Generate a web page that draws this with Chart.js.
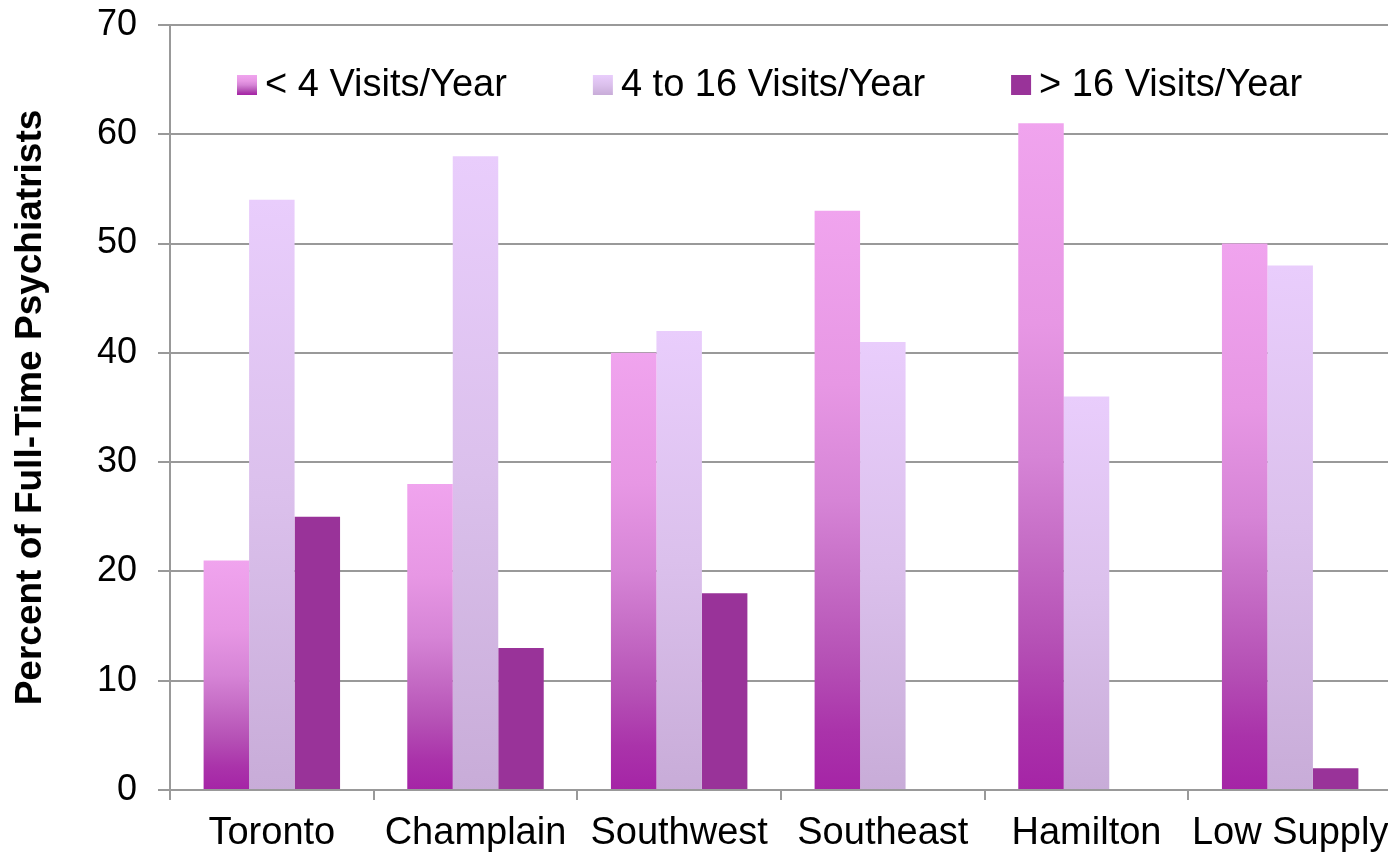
<!DOCTYPE html>
<html>
<head>
<meta charset="utf-8">
<script src="https://cdn.jsdelivr.net/npm/chart.js@4/dist/chart.umd.min.js"></script>
<style>
  html, body { margin: 0; padding: 0; background: #fff; overflow: hidden; }
  #wrap { width: 1392px; height: 852px; }
</style>
</head>
<body>
<div id="wrap"><canvas id="chart" width="1392" height="852"></canvas></div>
<script>
// data
const regions = ['Toronto', 'Champlain', 'Southwest', 'Southeast', 'Hamilton', 'Low Supply'];
const seriesNames = ['< 4 Visits/Year', '4 to 16 Visits/Year', '> 16 Visits/Year'];
const lowVisits = [21, 28, 40, 53, 61, 50];
const midVisits = [54, 58, 42, 41, 36, 48];
const highVisits = [25, 13, 18, 0, 0, 2];
const yTicks = [0, 10, 20, 30, 40, 50, 60, 70];

const FONT = "'Liberation Sans', Arial, sans-serif";
const GRID = '#999999';

// gradient stops, top of bar -> bottom of bar
const pinkStops = [[0, '#f0a4ee'], [0.3, '#e797e4'], [0.5, '#d684d6'], [0.62, '#c76fc7'], [0.78, '#b550b5'], [0.9, '#aa33aa'], [1, '#a524a6']];
const lilacStops = [[0, '#e9cdfc'], [0.5, '#dbc0ec'], [1, '#c8acd8']];

function makeGradient(ctx, top, bottom, stops) {
  const g = ctx.createLinearGradient(0, top, 0, bottom);
  stops.forEach(([o, c]) => g.addColorStop(o, c));
  return g;
}

// each bar gets its own gradient, from its top down to zero
function barFill(stops) {
  return (c) => {
    const chart = c.chart;
    if (!chart.chartArea || c.type !== 'data') return stops[0][1];
    const y = chart.scales.y;
    const top = y.getPixelForValue(c.raw);
    const base = y.getPixelForValue(0);
    if (base - top < 1) return stops[stops.length - 1][1];
    return makeGradient(chart.ctx, top, base, stops);
  };
}

// legend sits inside the plot, one row near the top
const insideLegend = {
  id: 'insideLegend',
  afterDatasetsDraw(chart) {
    const { ctx, chartArea } = chart;
    const box = 20, boxGap = 8, itemGap = 86;
    let x = chartArea.left + 67;
    const cy = chartArea.top + 60;
    ctx.save();
    ctx.font = '38px ' + FONT;
    ctx.textBaseline = 'middle';
    chart.data.datasets.forEach((ds, i) => {
      let fill = ds.legendColor;
      if (i === 0) fill = makeGradient(ctx, cy - box / 2, cy + box / 2, pinkStops);
      if (i === 1) fill = makeGradient(ctx, cy - box / 2, cy + box / 2, lilacStops);
      ctx.fillStyle = fill;
      ctx.fillRect(x, cy - box / 2, box, box);
      ctx.fillStyle = '#000';
      ctx.fillText(ds.label, x + box + boxGap, cy + 1);
      x += box + boxGap + ctx.measureText(ds.label).width + itemGap;
    });
    ctx.restore();
  }
};

new Chart(document.getElementById('chart'), {
  type: 'bar',
  data: {
    labels: regions,
    datasets: [
      { label: seriesNames[0], data: lowVisits, backgroundColor: barFill(pinkStops), legendColor: '#d684d6' },
      { label: seriesNames[1], data: midVisits, backgroundColor: barFill(lilacStops), legendColor: '#dbc0ec' },
      { label: seriesNames[2], data: highVisits, backgroundColor: '#993399', legendColor: '#993399' }
    ]
  },
  options: {
    responsive: false,
    animation: false,
    devicePixelRatio: 1,
    layout: { padding: { top: 25, right: 0, bottom: 0, left: 0 } },
    datasets: { bar: { categoryPercentage: 0.67, barPercentage: 1, borderWidth: 0 } },
    plugins: { legend: { display: false }, tooltip: { enabled: false } },
    scales: {
      x: {
        grid: { drawOnChartArea: false, drawTicks: true, tickLength: 10, color: GRID, lineWidth: 2, offset: true },
        border: { display: true, color: GRID, width: 2 },
        ticks: { color: '#000', padding: 11, font: { family: FONT, size: 38 } },
        afterFit: (s) => { s.height = 62; s.paddingLeft = 0; s.paddingRight = 0; }
      },
      y: {
        min: yTicks[0],
        max: yTicks[yTicks.length - 1],
        afterBuildTicks: (s) => { s.ticks = yTicks.map(v => ({ value: v })); },
        grid: { color: GRID, lineWidth: 2, tickLength: 12, drawTicks: true },
        border: { display: true, color: GRID, width: 2 },
        ticks: { color: '#000', padding: 21, font: { family: FONT, size: 36 } },
        title: {
          display: true,
          text: 'Percent of Full-Time Psychiatrists',
          color: '#000',
          padding: { top: 9, bottom: 0 },
          font: { family: FONT, size: 37, weight: 'bold' }
        },
        afterFit: (s) => { s.width = 170; s.paddingTop = 0; s.paddingBottom = 0; }
      }
    }
  },
  plugins: [insideLegend]
});
</script>
</body>
</html>
